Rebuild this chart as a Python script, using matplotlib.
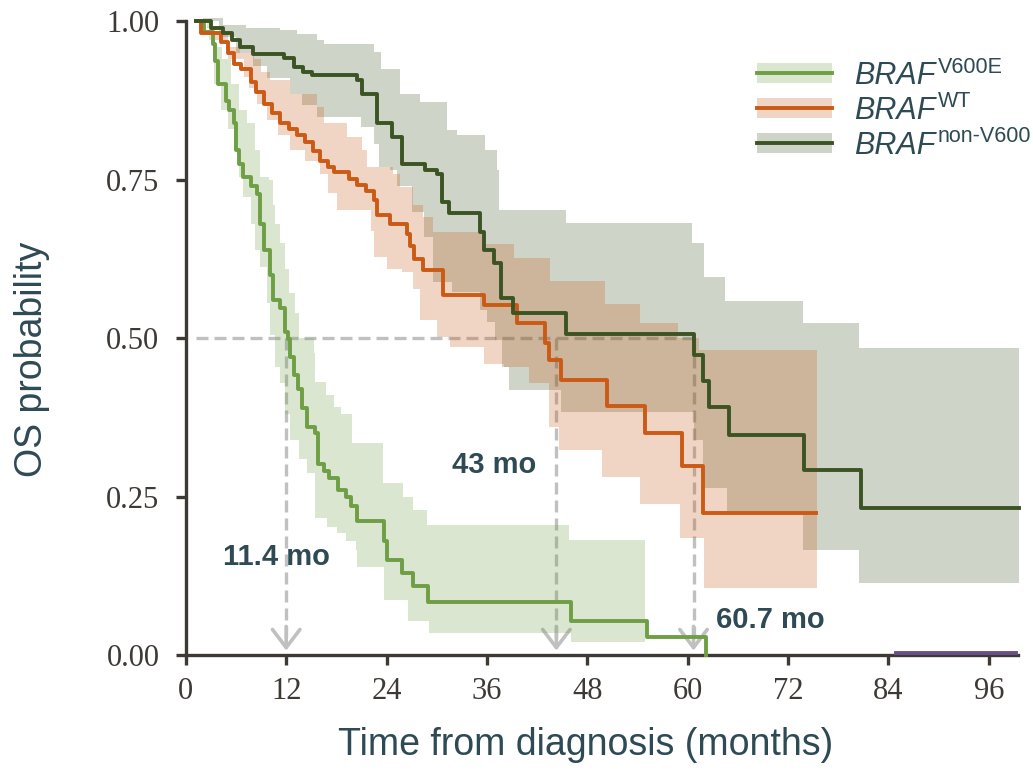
# Kaplan-Meier OS curves by BRAF status, with confidence bands and medians.

import matplotlib
matplotlib.use("Agg")
import matplotlib.pyplot as plt
from matplotlib.lines import Line2D
from matplotlib.patches import Patch

plt.rcParams['font.family'] = ['Liberation Sans', 'DejaVu Sans']

# ---- data (months, survival probability) ----
v600e_t = [1.2, 2.2, 3.2, 3.5, 3.9, 4.8, 5.2, 5.8, 6.0, 6.4, 6.8, 7.8, 8.5, 8.9, 9.3,
           10.1, 10.4, 11.3, 11.9, 12.2, 12.5, 12.9, 13.4, 13.9, 14.5, 15.5, 15.8,
           16.5, 17.1, 18.2, 19.1, 19.7, 20.5, 23.7, 24.0, 25.8, 27.2, 28.9, 46.0,
           55.1, 62.2]
v600e_s = [1.0, 0.983, 0.964, 0.938, 0.901, 0.875, 0.86, 0.839, 0.797, 0.775, 0.754,
           0.74, 0.728, 0.68, 0.639, 0.60, 0.56, 0.547, 0.51, 0.499, 0.47, 0.442,
           0.42, 0.39, 0.36, 0.35, 0.302, 0.29, 0.279, 0.26, 0.25, 0.235, 0.211,
           0.18, 0.15, 0.129, 0.109, 0.083, 0.054, 0.029, 0.0]
v600e_up_t = [1.2, 2.5, 3.5, 4.3, 5.4, 6.3, 7.3, 8.3, 8.9, 9.9, 10.4, 10.7, 11.3, 11.8,
              12.3, 13.0, 13.5, 15.3, 15.5, 16.7, 17.7, 18.5, 19.9, 23.6, 26.0, 27.2,
              28.8, 45.8, 54.9]
v600e_up = [1.0, 0.99, 0.96, 0.94, 0.901, 0.86, 0.839, 0.797, 0.754, 0.749, 0.71, 0.681,
            0.65, 0.61, 0.571, 0.54, 0.50, 0.476, 0.431, 0.41, 0.392, 0.381, 0.334,
            0.271, 0.25, 0.229, 0.205, 0.182, 0.182]
v600e_lo_t = [1.2, 2.8, 3.2, 3.4, 4.2, 5.0, 5.8, 6.4, 6.8, 7.75, 8.3, 8.9, 9.7, 10.1,
              10.7, 11.3, 11.9, 12.5, 13.5, 14.5, 15.5, 16.9, 18.1, 19.2, 20.3, 20.5,
              23.7, 26.6, 29.1, 46.0, 54.9]
v600e_lo = [1.0, 0.97, 0.938, 0.901, 0.86, 0.83, 0.797, 0.754, 0.723, 0.681, 0.639,
            0.612, 0.555, 0.505, 0.455, 0.429, 0.38, 0.339, 0.31, 0.287, 0.216, 0.202,
            0.192, 0.18, 0.166, 0.139, 0.087, 0.053, 0.034, 0.021, 0.021]

wt_t = [1.2, 1.8, 4.2, 5.0, 5.7, 6.6, 7.75, 8.4, 9.3, 10.3, 11.3, 12.3, 13.3, 14.3,
        15.2, 16.1, 17.0, 17.7, 19.5, 20.5, 21.5, 22.5, 22.9, 24.4, 26.4, 26.8, 27.3,
        28.4, 30.8, 35.6, 39.6, 43.0, 43.4, 44.8, 50.3, 54.9, 59.3, 61.8, 75.3]
wt_s = [1.0, 0.982, 0.968, 0.95, 0.933, 0.925, 0.905, 0.889, 0.87, 0.855, 0.84, 0.83,
        0.82, 0.81, 0.795, 0.78, 0.77, 0.763, 0.752, 0.742, 0.732, 0.718, 0.694, 0.681,
        0.665, 0.645, 0.625, 0.607, 0.568, 0.552, 0.524, 0.493, 0.465, 0.434, 0.393,
        0.350, 0.299, 0.2235, 0.2235]
wt_up_t = [1.2, 3.4, 5.0, 6.5, 8.1, 9.0, 10.1, 12.5, 15.7, 16.5, 19.3, 21.1, 21.7, 24.8,
           25.6, 27.2, 28.4, 29.6, 35.4, 39.2, 43.6, 50.1, 54.3, 58.8, 61.4, 75.5]
wt_up = [1.0, 0.985, 0.96, 0.95, 0.94, 0.92, 0.907, 0.886, 0.865, 0.84, 0.818, 0.797,
         0.770, 0.760, 0.739, 0.71, 0.691, 0.668, 0.649, 0.626, 0.591, 0.554, 0.524,
         0.50, 0.481, 0.481]
wt_lo_t = [1.2, 3.4, 5.0, 7.0, 7.6, 8.5, 9.7, 11.0, 12.5, 14.3, 16.1, 17.0, 18.1, 22.1,
           22.5, 24.0, 25.8, 27.2, 28.0, 30.0, 31.6, 35.6, 38.0, 41.0, 43.4, 44.6, 49.8,
           54.3, 59.1, 61.9, 75.5]
wt_lo = [1.0, 0.97, 0.94, 0.912, 0.895, 0.87, 0.844, 0.82, 0.797, 0.78, 0.760, 0.73,
         0.702, 0.670, 0.628, 0.61, 0.605, 0.578, 0.528, 0.502, 0.486, 0.46, 0.455, 0.43,
         0.36, 0.323, 0.281, 0.239, 0.184, 0.105, 0.105]

nonv600_t = [1.2, 3.0, 4.5, 5.5, 6.5, 8.0, 11.7, 12.9, 14.0, 15.1, 20.5, 21.1, 22.9,
             24.6, 25.8, 28.6, 30.0, 30.6, 31.5, 35.2, 35.6, 36.8, 37.7, 39.1, 45.4,
             60.7, 61.8, 62.6, 65.0, 73.9, 80.7, 99.6]
nonv600_s = [1.0, 0.99, 0.981, 0.97, 0.96, 0.949, 0.942, 0.928, 0.92, 0.915, 0.907,
             0.886, 0.839, 0.818, 0.775, 0.765, 0.759, 0.715, 0.697, 0.668, 0.639,
             0.618, 0.563, 0.540, 0.506, 0.473, 0.433, 0.392, 0.347, 0.292, 0.232,
             0.232]
nonv600_up_t = [1.2, 2.0, 4.5, 7.2, 11.3, 13.3, 15.7, 16.5, 22.5, 23.3, 25.6, 28.0,
                31.2, 32.4, 35.8, 37.2, 37.4, 45.4, 60.5, 61.9, 64.5, 73.8, 80.5, 99.6]
nonv600_up = [1.0, 1.005, 0.995, 0.989, 0.986, 0.98, 0.97, 0.964, 0.952, 0.925, 0.886,
              0.873, 0.828, 0.82, 0.797, 0.765, 0.703, 0.682, 0.65, 0.597, 0.558, 0.524,
              0.484, 0.484]
nonv600_lo_t = [1.2, 4.0, 6.0, 8.0, 9.7, 12.5, 13.9, 15.7, 20.9, 22.5, 23.1, 24.4, 25.2,
                27.0, 28.5, 29.6, 31.8, 35.2, 36.0, 37.0, 37.8, 38.6, 44.8, 60.8, 61.8,
                64.7, 73.8, 80.5, 99.6]
nonv600_lo = [1.0, 0.975, 0.95, 0.93, 0.91, 0.886, 0.868, 0.849, 0.833, 0.807, 0.770,
              0.765, 0.74, 0.70, 0.66, 0.589, 0.573, 0.544, 0.526, 0.497, 0.455, 0.418,
              0.384, 0.339, 0.263, 0.224, 0.166, 0.114, 0.114]

other_t = [84.9, 99.2]
other_s = [0.003, 0.003]

medians = [12.0, 44.3, 60.7]
median_labels = ["11.4 mo", "43 mo", "60.7 mo"]
median_label_x = [4.4, 31.8, 63.4]
median_label_y = [0.142, 0.287, 0.043]

gene = "BRAF"
variants = ["V600E", "WT", "non-V600"]

GREEN = "#6f9f45"
ORANGE = "#cb5a15"
DARK = "#3c5424"
PURPLE = "#6a4f86"
TEXT = "#2e4a54"
AXIS = "#3d3935"
DASH = "#c0c0c0"
LW = 2.8


def step_xy(t, v):
    xs, ys = [], []
    for i in range(len(t)):
        if i > 0:
            xs.append(t[i])
            ys.append(v[i - 1])
        xs.append(t[i])
        ys.append(v[i])
    return xs, ys


def band(ax, t_up, up, t_lo, lo, color):
    xu, yu = step_xy(t_up, up)
    xl, yl = step_xy(t_lo, lo)
    ax.fill(xu + xl[::-1], yu + yl[::-1], color=color, alpha=0.25, lw=0,
            zorder=2, clip_on=False)


fig = plt.figure(figsize=(10.33, 7.72), dpi=100)
ax = fig.add_axes([0.1799, 0.1516, 0.8056, 0.8206])

# median guide lines
ax.plot([1.2, medians[-1]], [0.5, 0.5], color=DASH, lw=2.4, dashes=(3.6, 1.8), zorder=1)
for m in medians:
    ax.plot([m, m], [0.5, 0.02], color=DASH, lw=2.4, dashes=(3.6, 1.8), zorder=1)
    ax.annotate("", xy=(m, 0.007), xytext=(m, 0.045),
                arrowprops=dict(arrowstyle="->,head_length=0.5,head_width=0.38",
                                color=DASH, lw=2.6, mutation_scale=26,
                                shrinkA=0, shrinkB=0), zorder=1)

band(ax, nonv600_up_t, nonv600_up, nonv600_lo_t, nonv600_lo, DARK)
band(ax, wt_up_t, wt_up, wt_lo_t, wt_lo, ORANGE)
band(ax, v600e_up_t, v600e_up, v600e_lo_t, v600e_lo, GREEN)

ax.step(v600e_t, v600e_s, where="post", color=GREEN, lw=LW, zorder=4, clip_on=False)
ax.step(wt_t, wt_s, where="post", color=ORANGE, lw=LW, zorder=4, clip_on=False)
ax.step(nonv600_t, nonv600_s, where="post", color=DARK, lw=LW, zorder=4, clip_on=False)
ax.plot(other_t, other_s, color=PURPLE, lw=LW, zorder=5, clip_on=False)

for x, y, s in zip(median_label_x, median_label_y, median_labels):
    ax.text(x, y, s, ha="left", va="baseline", fontsize=21, fontweight="bold",
            color=TEXT, zorder=6)

ax.set_xlim(0, 99.5)
ax.set_ylim(0, 1.0)
ax.set_xticks(range(0, 97, 12))
ax.set_yticks([0, 0.25, 0.5, 0.75, 1.0])
ax.set_yticklabels(["0.00", "0.25", "0.50", "0.75", "1.00"])
for lab in ax.get_xticklabels() + ax.get_yticklabels():
    lab.set_fontfamily("Liberation Serif")
    lab.set_fontsize(22)
    lab.set_color(AXIS)

for side in ["top", "right"]:
    ax.spines[side].set_visible(False)
for side in ["left", "bottom"]:
    ax.spines[side].set_color(AXIS)
    ax.spines[side].set_linewidth(2.4)
ax.tick_params(axis="both", direction="out", length=7, width=2.4, color=AXIS)
ax.tick_params(axis="y", pad=12)
ax.tick_params(axis="x", pad=9)

ax.set_xlabel("Time from diagnosis (months)", fontsize=27, color=TEXT)
ax.set_ylabel("OS probability", fontsize=27, color=TEXT)
ax.xaxis.set_label_coords(0.48, -0.113)
ax.yaxis.set_label_coords(-0.163, 0.466)

# legend: band patch + line, italic gene name, superscript variant
handles = [(Patch(facecolor=c, alpha=0.25, lw=0), Line2D([], [], color=c, lw=LW))
           for c in [GREEN, ORANGE, DARK]]
leg = ax.legend(handles, [gene] * 3, loc="upper left", bbox_to_anchor=(0.686, 0.938),
                frameon=False, prop={"size": 22, "style": "italic"},
                handlelength=2.48, handleheight=0.62, handletextpad=0.72,
                labelspacing=0.16, borderpad=0, borderaxespad=0, labelcolor=TEXT)
leg.set_zorder(8)
for txt, var in zip(leg.get_texts(), variants):
    ax.annotate(var, xy=(1.0, 1.0), xycoords=txt, xytext=(1.5, 3.0),
                textcoords="offset points", ha="left", va="top",
                fontsize=15.5, color=TEXT, annotation_clip=False, zorder=10)

fig.savefig("out.png", dpi=100)
